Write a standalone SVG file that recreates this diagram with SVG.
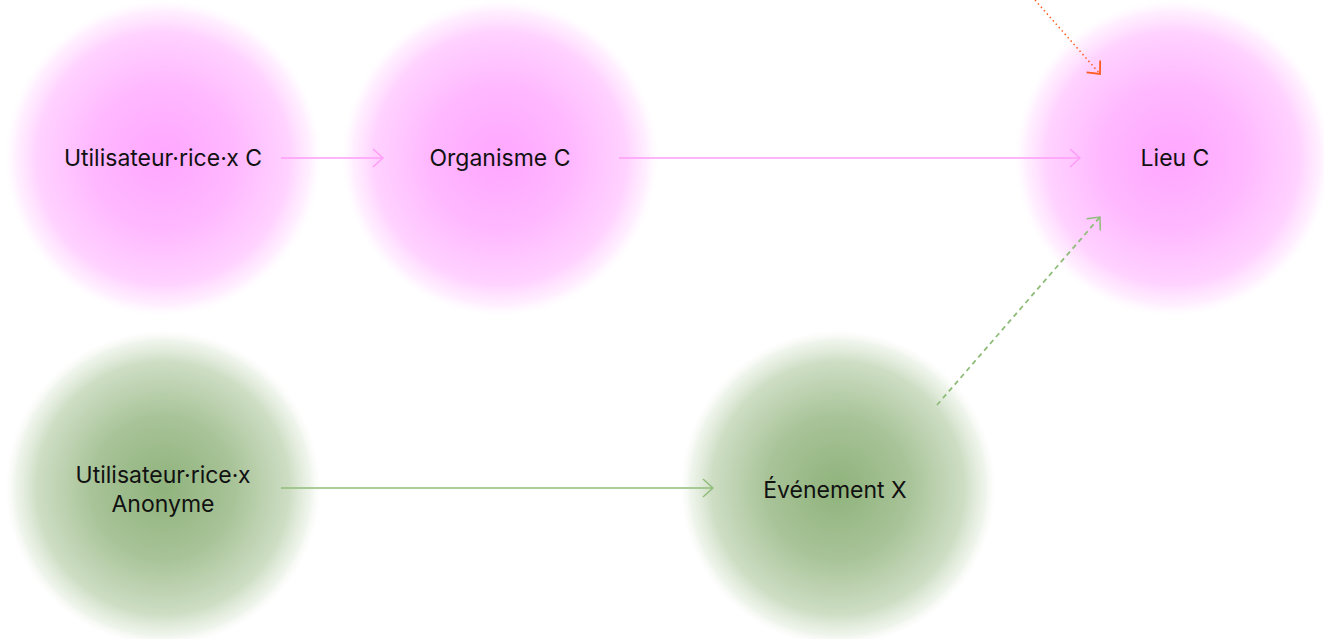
<svg xmlns="http://www.w3.org/2000/svg" width="1324" height="639" viewBox="0 0 1324 639">
  <defs>
    <radialGradient id="gPink">
      <stop offset="0" stop-color="#ffa6ff" stop-opacity="1"/>
      <stop offset="0.45" stop-color="#ffb8ff" stop-opacity="1"/>
      <stop offset="0.8" stop-color="#ffd0ff" stop-opacity="0.95"/>
      <stop offset="0.93" stop-color="#ffe4ff" stop-opacity="0.6"/>
      <stop offset="1" stop-color="#fff4ff" stop-opacity="0"/>
    </radialGradient>
    <radialGradient id="gGreen">
      <stop offset="0" stop-color="#8fb37c" stop-opacity="1"/>
      <stop offset="0.45" stop-color="#a8c398" stop-opacity="1"/>
      <stop offset="0.8" stop-color="#cbdcc1" stop-opacity="0.95"/>
      <stop offset="0.93" stop-color="#e2ecdc" stop-opacity="0.6"/>
      <stop offset="1" stop-color="#f4f8f1" stop-opacity="0"/>
    </radialGradient>
    <marker id="aPink" viewBox="0 0 12 20" refX="11" refY="10" markerWidth="12" markerHeight="20" markerUnits="userSpaceOnUse" orient="auto">
      <path d="M1 1 L11 10 L1 19" fill="none" stroke="#ff9cf7" stroke-width="1.5"/>
    </marker>
    <marker id="aGreen" viewBox="0 0 12 20" refX="11" refY="10" markerWidth="12" markerHeight="20" markerUnits="userSpaceOnUse" orient="auto">
      <path d="M1 1 L11 10 L1 19" fill="none" stroke="#8fbd79" stroke-width="1.5"/>
    </marker>
    <marker id="aOrange" viewBox="0 0 12 20" refX="11" refY="10" markerWidth="12" markerHeight="20" markerUnits="userSpaceOnUse" orient="auto">
      <path d="M1 1 L11 10 L1 19" fill="none" stroke="#ff5a1f" stroke-width="1.8"/>
    </marker>
  </defs>
  <style>
    .lbl { font-family: Inter, "Liberation Sans", sans-serif; font-size: 23px; fill: #111; text-anchor: middle; }
    .pink { fill: url(#gPink); }
    .green { fill: url(#gGreen); }
  </style>
  <rect width="1324" height="639" fill="#ffffff"/>

  <g id="user-c">
    <circle class="pink" cx="163" cy="158" r="158"/>
    <text class="lbl" x="163" y="166">Utilisateur·rice·x C</text>
  </g>
  <g id="organisme-c">
    <circle class="pink" cx="500" cy="158" r="158"/>
    <text class="lbl" x="500" y="166">Organisme C</text>
  </g>
  <g id="lieu-c">
    <circle class="pink" cx="1173" cy="158" r="158"/>
    <text class="lbl" x="1175" y="166">Lieu C</text>
  </g>
  <g id="user-anonyme">
    <circle class="green" cx="163" cy="488" r="158"/>
    <text class="lbl" x="163" y="483">Utilisateur·rice·x</text>
    <text class="lbl" x="163" y="512">Anonyme</text>
  </g>
  <g id="evenement-x">
    <circle class="green" cx="838" cy="488" r="158"/>
    <text class="lbl" x="835" y="498">Événement X</text>
  </g>

  <g id="connectors" fill="none">
    <line x1="281" y1="158" x2="383" y2="158" stroke="#ff9cf7" stroke-width="1.5" marker-end="url(#aPink)"/>
    <line x1="619" y1="158" x2="1080" y2="158" stroke="#ff9cf7" stroke-width="1.5" marker-end="url(#aPink)"/>
    <line x1="281" y1="488" x2="713" y2="488" stroke="#8fbd79" stroke-width="1.5" marker-end="url(#aGreen)"/>
    <line x1="937" y1="405" x2="1100" y2="217" stroke="#8fbd79" stroke-width="1.8" stroke-dasharray="5 4" marker-end="url(#aGreen)"/>
    <line x1="1035" y1="0" x2="1100" y2="74" stroke="#ff5a1f" stroke-width="1.5" stroke-dasharray="1.5 3" marker-end="url(#aOrange)"/>
  </g>
</svg>
